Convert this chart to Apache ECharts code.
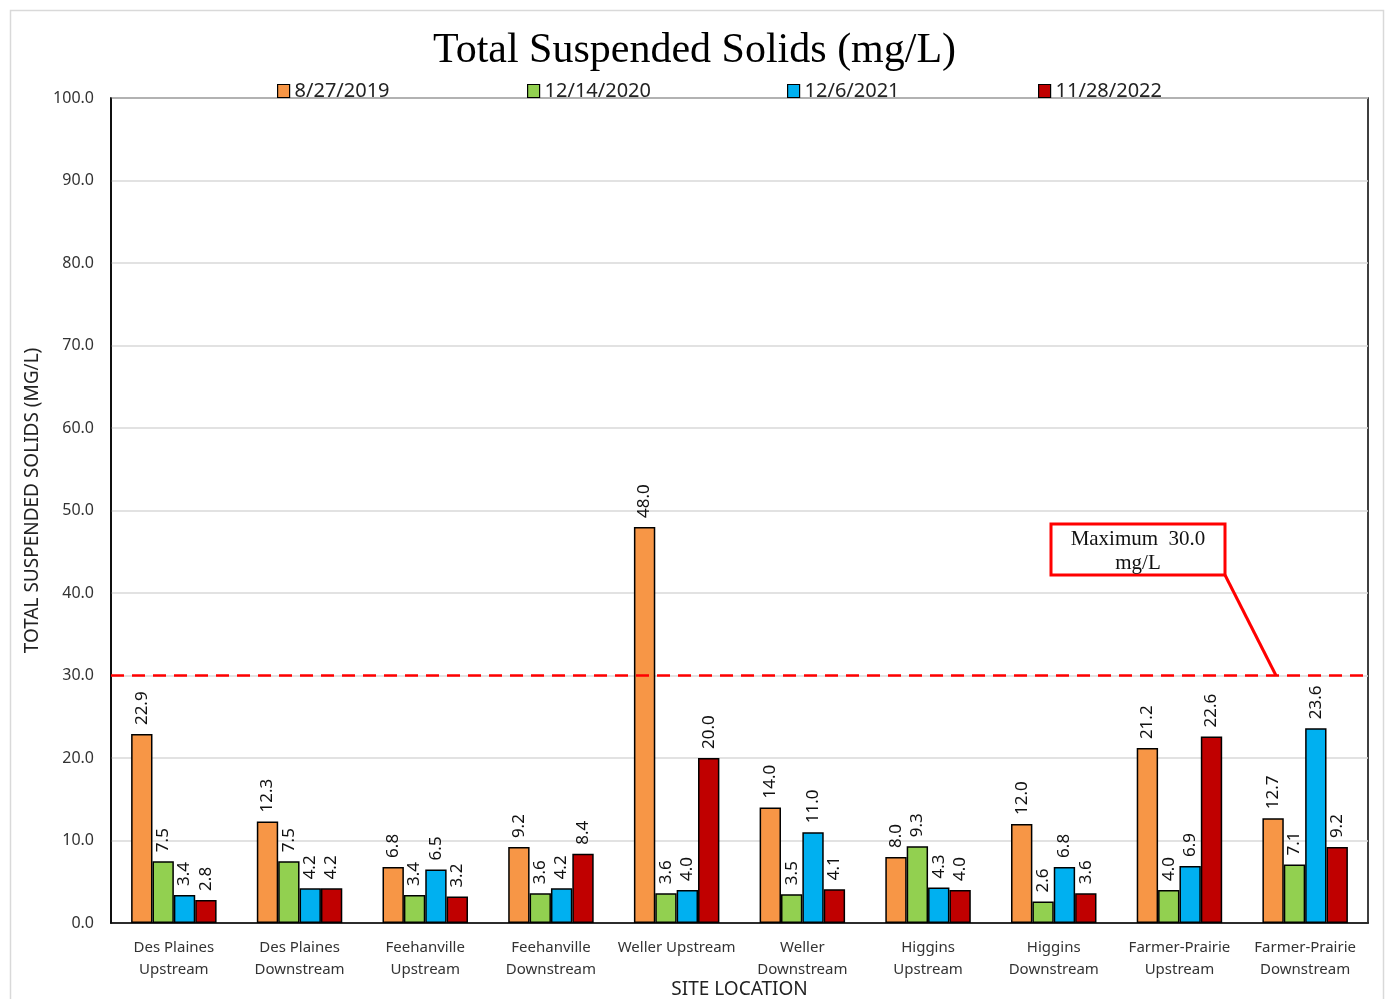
<!DOCTYPE html>
<html lang="en">
<head>
  <meta charset="UTF-8">
  <title>Total Suspended Solids</title>
  <script src="https://cdn.jsdelivr.net/npm/echarts@6/dist/echarts.min.js"></script>
  <style>
    body { margin: 0; background: #fff; }
    #chart { width: 1389px; height: 999px; }
  </style>
</head>
<body>
<div id="chart"></div>
<script>
  // data
  const sites = ['Des Plaines\nUpstream', 'Des Plaines\nDownstream', 'Feehanville\nUpstream',
    'Feehanville\nDownstream', 'Weller Upstream', 'Weller\nDownstream', 'Higgins\nUpstream',
    'Higgins\nDownstream', 'Farmer-Prairie\nUpstream', 'Farmer-Prairie\nDownstream'];
  const dates = ['8/27/2019', '12/14/2020', '12/6/2021', '11/28/2022'];
  const v2019 = [22.9, 12.3, 6.8, 9.2, 48.0, 14.0, 8.0, 12.0, 21.2, 12.7];
  const v2020 = [7.5, 7.5, 3.4, 3.6, 3.6, 3.5, 9.3, 2.6, 4.0, 7.1];
  const v2021 = [3.4, 4.2, 6.5, 4.2, 4.0, 11.0, 4.3, 6.8, 6.9, 23.6];
  const v2022 = [2.8, 4.2, 3.2, 8.4, 20.0, 4.1, 4.0, 3.6, 22.6, 9.2];
  const colors = ['#F79646', '#92D050', '#00B0F0', '#C00000'];
  const limit = 30;

  const font = '"Noto Sans", sans-serif';
  let chart = echarts.init(document.getElementById('chart'));

  function barSeries(name, data, idx) {
    let s = {
      name: name,
      type: 'bar',
      data: data,
      barGap: '0%',
      barCategoryGap: '32%',
      itemStyle: {color: colors[idx], borderColor: '#000', borderWidth: 1.5},
      label: {
        show: true,
        position: 'top',
        rotate: 90,
        distance: 9,
        align: 'left',
        verticalAlign: 'middle',
        color: '#111',
        fontFamily: font,
        fontSize: 17,
        formatter: p => p.value.toFixed(1)
      }
    };
    if (idx === 0) {
      s.markLine = {
        silent: true,
        symbol: 'none',
        label: {show: false},
        lineStyle: {color: '#FF0000', type: [13, 8], width: 2.5},
        data: [{yAxis: limit}]
      };
    }
    return s;
  }

  // one legend per date so the items sit at fixed places
  const legendLeft = [272, 522, 782, 1033];
  let legends = dates.map((d, i) => ({
    data: [d],
    left: legendLeft[i],
    top: 76,
    itemWidth: 12,
    itemHeight: 13,
    icon: 'rect',
    itemStyle: {borderColor: '#000', borderWidth: 1.2},
    textStyle: {fontFamily: font, fontSize: 20, color: '#222', padding: [0, 0, 0, 0]}
  }));

  let option = {
    animation: false,
    title: {
      text: 'Total Suspended Solids (mg/L)',
      left: 'center',
      top: 25,
      textStyle: {fontFamily: '"Liberation Serif", serif', fontSize: 42, fontWeight: 'normal', color: '#000'}
    },
    legend: legends,
    grid: {
      left: 111, right: 21, top: 98, bottom: 76,
      outerBoundsMode: 'none',
      show: true, borderColor: '#000', borderWidth: 1.5
    },
    xAxis: {
      type: 'category',
      data: sites,
      name: 'SITE LOCATION',
      nameLocation: 'middle',
      nameGap: 57,
      nameMoveOverlap: false,
      nameTextStyle: {fontFamily: font, fontSize: 19, color: '#222'},
      axisLine: {lineStyle: {color: '#000', width: 1.5}},
      axisTick: {show: false},
      axisLabel: {fontFamily: font, fontSize: 15, color: '#333', lineHeight: 22, margin: 14, interval: 0}
    },
    yAxis: {
      type: 'value',
      min: 0,
      max: 100,
      interval: 10,
      name: 'TOTAL SUSPENDED SOLIDS (MG/L)',
      nameLocation: 'middle',
      nameGap: 67,
      nameTextStyle: {fontFamily: font, fontSize: 19, color: '#222', padding: [0, 0, 0, 20]},
      axisLine: {show: true, lineStyle: {color: '#000', width: 1.5}},
      axisTick: {show: false},
      splitLine: {lineStyle: {color: '#d9d9d9', width: 1.5}},
      axisLabel: {fontFamily: font, fontSize: 16, color: '#333', margin: 17, formatter: v => v.toFixed(1)}
    },
    series: [
      barSeries(dates[0], v2019, 0),
      barSeries(dates[1], v2020, 1),
      barSeries(dates[2], v2021, 2),
      barSeries(dates[3], v2022, 3)
    ]
  };
  chart.setOption(option);

  // callout pointing at the limit line
  let yLimit = chart.convertToPixel({yAxisIndex: 0}, limit);
  chart.setOption({
    graphic: [
      {
        type: 'rect', left: 8, top: 8, silent: true,
        shape: {width: 1373, height: 1000},
        style: {fill: 'none', stroke: '#d9d9d9', lineWidth: 1.5}
      },
      {
        type: 'line', silent: true,
        shape: {x1: 1225, y1: 575, x2: 1276, y2: yLimit},
        style: {stroke: '#FF0000', lineWidth: 3}
      },
      {
        type: 'rect', silent: true, x: 1051, y: 524,
        shape: {width: 174, height: 51},
        style: {fill: '#fff', stroke: '#FF0000', lineWidth: 3}
      },
      {
        type: 'text', silent: true, x: 1138, y: 527,
        style: {
          text: 'Maximum  30.0\nmg/L', align: 'center', verticalAlign: 'top',
          font: '21px "Liberation Serif", serif', lineHeight: 24, fill: '#111'
        }
      }
    ]
  });
</script>
</body>
</html>
